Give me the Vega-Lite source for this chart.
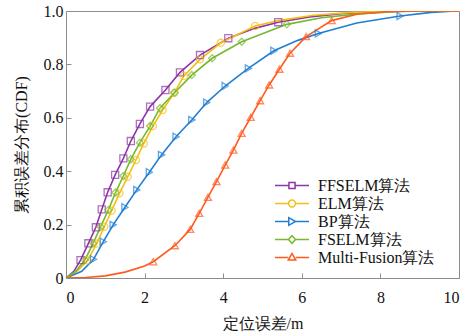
{
  "$schema": "https://vega.github.io/schema/vega-lite/v6.json",
  "width": 393,
  "height": 267,
  "autosize": {"type": "none"},
  "padding": {"left": 66, "top": 11, "right": 10, "bottom": 57},
  "background": "white",
  "config": {
    "font": "Liberation Serif",
    "view": {"stroke": "#8c8c8c", "strokeWidth": 1},
    "axis": {
      "domain": false,
      "grid": false,
      "labelFont": "Liberation Serif",
      "labelFontSize": 16,
      "labelColor": "#111",
      "titleFont": "Liberation Serif",
      "titleFontSize": 16,
      "titleFontWeight": "normal",
      "titleColor": "#111",
      "tickColor": "#8c8c8c",
      "tickSize": -5
    },
    "legend": {
      "labelFont": "Liberation Serif",
      "labelFontSize": 16,
      "labelColor": "#111"
    }
  },
  "datasets": {
    "lines": [
      {"algo": "FFSELM算法", "x": 0, "y": 0},
      {"algo": "FFSELM算法", "x": 0.2, "y": 0.025},
      {"algo": "FFSELM算法", "x": 0.37, "y": 0.067},
      {"algo": "FFSELM算法", "x": 0.57, "y": 0.13},
      {"algo": "FFSELM算法", "x": 0.76, "y": 0.19},
      {"algo": "FFSELM算法", "x": 0.91, "y": 0.257},
      {"algo": "FFSELM算法", "x": 1.06, "y": 0.321},
      {"algo": "FFSELM算法", "x": 1.25, "y": 0.386},
      {"algo": "FFSELM算法", "x": 1.46, "y": 0.448},
      {"algo": "FFSELM算法", "x": 1.65, "y": 0.513},
      {"algo": "FFSELM算法", "x": 1.88, "y": 0.577},
      {"algo": "FFSELM算法", "x": 2.14, "y": 0.642},
      {"algo": "FFSELM算法", "x": 2.53, "y": 0.704},
      {"algo": "FFSELM算法", "x": 2.9, "y": 0.77},
      {"algo": "FFSELM算法", "x": 3.41, "y": 0.835},
      {"algo": "FFSELM算法", "x": 4.13, "y": 0.898},
      {"algo": "FFSELM算法", "x": 4.8, "y": 0.935},
      {"algo": "FFSELM算法", "x": 5.4, "y": 0.958},
      {"algo": "FFSELM算法", "x": 6.2, "y": 0.978},
      {"algo": "FFSELM算法", "x": 7.0, "y": 0.99},
      {"algo": "FFSELM算法", "x": 8.0, "y": 0.997},
      {"algo": "FFSELM算法", "x": 9.0, "y": 1},
      {"algo": "FFSELM算法", "x": 10, "y": 1},

      {"algo": "ELM算法", "x": 0, "y": 0},
      {"algo": "ELM算法", "x": 0.3, "y": 0.028},
      {"algo": "ELM算法", "x": 0.55, "y": 0.066},
      {"algo": "ELM算法", "x": 0.78, "y": 0.129},
      {"algo": "ELM算法", "x": 0.975, "y": 0.192},
      {"algo": "ELM算法", "x": 1.16, "y": 0.252},
      {"algo": "ELM算法", "x": 1.36, "y": 0.317},
      {"algo": "ELM算法", "x": 1.57, "y": 0.379},
      {"algo": "ELM算法", "x": 1.78, "y": 0.442},
      {"algo": "ELM算法", "x": 1.98, "y": 0.504},
      {"algo": "ELM算法", "x": 2.21, "y": 0.569},
      {"algo": "ELM算法", "x": 2.46, "y": 0.629},
      {"algo": "ELM算法", "x": 2.76, "y": 0.694},
      {"algo": "ELM算法", "x": 3.0, "y": 0.757},
      {"algo": "ELM算法", "x": 3.41, "y": 0.819},
      {"algo": "ELM算法", "x": 3.94, "y": 0.881},
      {"algo": "ELM算法", "x": 4.81, "y": 0.944},
      {"algo": "ELM算法", "x": 5.4, "y": 0.964},
      {"algo": "ELM算法", "x": 6.3, "y": 0.984},
      {"algo": "ELM算法", "x": 7.3, "y": 0.995},
      {"algo": "ELM算法", "x": 8.5, "y": 1},
      {"algo": "ELM算法", "x": 10, "y": 1},

      {"algo": "BP算法", "x": 0, "y": 0},
      {"algo": "BP算法", "x": 0.4, "y": 0.025},
      {"algo": "BP算法", "x": 0.7, "y": 0.07},
      {"algo": "BP算法", "x": 0.95, "y": 0.136},
      {"algo": "BP算法", "x": 1.2, "y": 0.199},
      {"algo": "BP算法", "x": 1.5, "y": 0.265},
      {"algo": "BP算法", "x": 1.8, "y": 0.33},
      {"algo": "BP算法", "x": 2.12, "y": 0.396},
      {"algo": "BP算法", "x": 2.43, "y": 0.461},
      {"algo": "BP算法", "x": 2.8, "y": 0.529},
      {"algo": "BP算法", "x": 3.2, "y": 0.592},
      {"algo": "BP算法", "x": 3.58, "y": 0.657},
      {"algo": "BP算法", "x": 4.05, "y": 0.719},
      {"algo": "BP算法", "x": 4.64, "y": 0.785},
      {"algo": "BP算法", "x": 5.29, "y": 0.851},
      {"algo": "BP算法", "x": 5.9, "y": 0.89},
      {"algo": "BP算法", "x": 6.42, "y": 0.916},
      {"algo": "BP算法", "x": 7.4, "y": 0.955},
      {"algo": "BP算法", "x": 8.5, "y": 0.981},
      {"algo": "BP算法", "x": 9.3, "y": 0.995},
      {"algo": "BP算法", "x": 9.9, "y": 1},
      {"algo": "BP算法", "x": 10, "y": 1},

      {"algo": "FSELM算法", "x": 0, "y": 0},
      {"algo": "FSELM算法", "x": 0.25, "y": 0.025},
      {"algo": "FSELM算法", "x": 0.48, "y": 0.067},
      {"algo": "FSELM算法", "x": 0.69, "y": 0.13},
      {"algo": "FSELM算法", "x": 0.88, "y": 0.192},
      {"algo": "FSELM算法", "x": 1.08, "y": 0.255},
      {"algo": "FSELM算法", "x": 1.26, "y": 0.32},
      {"algo": "FSELM算法", "x": 1.46, "y": 0.382},
      {"algo": "FSELM算法", "x": 1.65, "y": 0.445},
      {"algo": "FSELM算法", "x": 1.88, "y": 0.507},
      {"algo": "FSELM算法", "x": 2.14, "y": 0.569},
      {"algo": "FSELM算法", "x": 2.39, "y": 0.636},
      {"algo": "FSELM算法", "x": 2.76, "y": 0.694},
      {"algo": "FSELM算法", "x": 3.2, "y": 0.76},
      {"algo": "FSELM算法", "x": 3.72, "y": 0.823},
      {"algo": "FSELM算法", "x": 4.47, "y": 0.885},
      {"algo": "FSELM算法", "x": 5.62, "y": 0.95},
      {"algo": "FSELM算法", "x": 6.5, "y": 0.975},
      {"algo": "FSELM算法", "x": 7.5, "y": 0.99},
      {"algo": "FSELM算法", "x": 8.5, "y": 0.998},
      {"algo": "FSELM算法", "x": 9.3, "y": 1},
      {"algo": "FSELM算法", "x": 10, "y": 1},

      {"algo": "Multi-Fusion算法", "x": 0, "y": 0},
      {"algo": "Multi-Fusion算法", "x": 0.5, "y": 0.002},
      {"algo": "Multi-Fusion算法", "x": 1.0, "y": 0.008},
      {"algo": "Multi-Fusion算法", "x": 1.5, "y": 0.022},
      {"algo": "Multi-Fusion算法", "x": 2.0, "y": 0.045},
      {"algo": "Multi-Fusion算法", "x": 2.22, "y": 0.061},
      {"algo": "Multi-Fusion算法", "x": 2.77, "y": 0.121},
      {"algo": "Multi-Fusion算法", "x": 3.16, "y": 0.182},
      {"algo": "Multi-Fusion算法", "x": 3.39, "y": 0.242},
      {"algo": "Multi-Fusion算法", "x": 3.61, "y": 0.302},
      {"algo": "Multi-Fusion算法", "x": 3.83, "y": 0.361},
      {"algo": "Multi-Fusion算法", "x": 4.05, "y": 0.423},
      {"algo": "Multi-Fusion算法", "x": 4.26, "y": 0.479},
      {"algo": "Multi-Fusion算法", "x": 4.47, "y": 0.542},
      {"algo": "Multi-Fusion算法", "x": 4.7, "y": 0.602},
      {"algo": "Multi-Fusion算法", "x": 4.94, "y": 0.664},
      {"algo": "Multi-Fusion算法", "x": 5.17, "y": 0.723},
      {"algo": "Multi-Fusion算法", "x": 5.43, "y": 0.782},
      {"algo": "Multi-Fusion算法", "x": 5.7, "y": 0.842},
      {"algo": "Multi-Fusion算法", "x": 6.11, "y": 0.904},
      {"algo": "Multi-Fusion算法", "x": 6.76, "y": 0.964},
      {"algo": "Multi-Fusion算法", "x": 7.4, "y": 0.988},
      {"algo": "Multi-Fusion算法", "x": 8.2, "y": 0.998},
      {"algo": "Multi-Fusion算法", "x": 9.0, "y": 1},
      {"algo": "Multi-Fusion算法", "x": 10, "y": 1}
    ],
    "markers": [
      {"algo": "FFSELM算法", "x": 0.37, "y": 0.067},
      {"algo": "FFSELM算法", "x": 0.57, "y": 0.13},
      {"algo": "FFSELM算法", "x": 0.76, "y": 0.19},
      {"algo": "FFSELM算法", "x": 0.91, "y": 0.257},
      {"algo": "FFSELM算法", "x": 1.06, "y": 0.321},
      {"algo": "FFSELM算法", "x": 1.25, "y": 0.386},
      {"algo": "FFSELM算法", "x": 1.46, "y": 0.448},
      {"algo": "FFSELM算法", "x": 1.65, "y": 0.513},
      {"algo": "FFSELM算法", "x": 1.88, "y": 0.577},
      {"algo": "FFSELM算法", "x": 2.14, "y": 0.642},
      {"algo": "FFSELM算法", "x": 2.53, "y": 0.704},
      {"algo": "FFSELM算法", "x": 2.9, "y": 0.77},
      {"algo": "FFSELM算法", "x": 3.41, "y": 0.835},
      {"algo": "FFSELM算法", "x": 4.13, "y": 0.898},
      {"algo": "FFSELM算法", "x": 5.4, "y": 0.958},

      {"algo": "ELM算法", "x": 0.55, "y": 0.066},
      {"algo": "ELM算法", "x": 0.78, "y": 0.129},
      {"algo": "ELM算法", "x": 0.975, "y": 0.192},
      {"algo": "ELM算法", "x": 1.16, "y": 0.252},
      {"algo": "ELM算法", "x": 1.36, "y": 0.317},
      {"algo": "ELM算法", "x": 1.57, "y": 0.379},
      {"algo": "ELM算法", "x": 1.78, "y": 0.442},
      {"algo": "ELM算法", "x": 1.98, "y": 0.504},
      {"algo": "ELM算法", "x": 2.21, "y": 0.569},
      {"algo": "ELM算法", "x": 2.46, "y": 0.629},
      {"algo": "ELM算法", "x": 2.76, "y": 0.694},
      {"algo": "ELM算法", "x": 3.0, "y": 0.757},
      {"algo": "ELM算法", "x": 3.41, "y": 0.819},
      {"algo": "ELM算法", "x": 3.94, "y": 0.881},
      {"algo": "ELM算法", "x": 4.81, "y": 0.944},

      {"algo": "BP算法", "x": 0.7, "y": 0.07},
      {"algo": "BP算法", "x": 0.95, "y": 0.136},
      {"algo": "BP算法", "x": 1.2, "y": 0.199},
      {"algo": "BP算法", "x": 1.5, "y": 0.265},
      {"algo": "BP算法", "x": 1.8, "y": 0.33},
      {"algo": "BP算法", "x": 2.12, "y": 0.396},
      {"algo": "BP算法", "x": 2.43, "y": 0.461},
      {"algo": "BP算法", "x": 2.8, "y": 0.529},
      {"algo": "BP算法", "x": 3.2, "y": 0.592},
      {"algo": "BP算法", "x": 3.58, "y": 0.657},
      {"algo": "BP算法", "x": 4.05, "y": 0.719},
      {"algo": "BP算法", "x": 4.64, "y": 0.785},
      {"algo": "BP算法", "x": 5.29, "y": 0.851},
      {"algo": "BP算法", "x": 6.42, "y": 0.916},
      {"algo": "BP算法", "x": 8.5, "y": 0.981},

      {"algo": "FSELM算法", "x": 0.48, "y": 0.067},
      {"algo": "FSELM算法", "x": 0.69, "y": 0.13},
      {"algo": "FSELM算法", "x": 0.88, "y": 0.192},
      {"algo": "FSELM算法", "x": 1.08, "y": 0.255},
      {"algo": "FSELM算法", "x": 1.26, "y": 0.32},
      {"algo": "FSELM算法", "x": 1.46, "y": 0.382},
      {"algo": "FSELM算法", "x": 1.65, "y": 0.445},
      {"algo": "FSELM算法", "x": 1.88, "y": 0.507},
      {"algo": "FSELM算法", "x": 2.14, "y": 0.569},
      {"algo": "FSELM算法", "x": 2.39, "y": 0.636},
      {"algo": "FSELM算法", "x": 2.76, "y": 0.694},
      {"algo": "FSELM算法", "x": 3.2, "y": 0.76},
      {"algo": "FSELM算法", "x": 3.72, "y": 0.823},
      {"algo": "FSELM算法", "x": 4.47, "y": 0.885},
      {"algo": "FSELM算法", "x": 5.62, "y": 0.95},

      {"algo": "Multi-Fusion算法", "x": 2.22, "y": 0.061},
      {"algo": "Multi-Fusion算法", "x": 2.77, "y": 0.121},
      {"algo": "Multi-Fusion算法", "x": 3.16, "y": 0.182},
      {"algo": "Multi-Fusion算法", "x": 3.39, "y": 0.242},
      {"algo": "Multi-Fusion算法", "x": 3.61, "y": 0.302},
      {"algo": "Multi-Fusion算法", "x": 3.83, "y": 0.361},
      {"algo": "Multi-Fusion算法", "x": 4.05, "y": 0.423},
      {"algo": "Multi-Fusion算法", "x": 4.26, "y": 0.479},
      {"algo": "Multi-Fusion算法", "x": 4.47, "y": 0.542},
      {"algo": "Multi-Fusion算法", "x": 4.7, "y": 0.602},
      {"algo": "Multi-Fusion算法", "x": 4.94, "y": 0.664},
      {"algo": "Multi-Fusion算法", "x": 5.17, "y": 0.723},
      {"algo": "Multi-Fusion算法", "x": 5.43, "y": 0.782},
      {"algo": "Multi-Fusion算法", "x": 5.7, "y": 0.842},
      {"algo": "Multi-Fusion算法", "x": 6.11, "y": 0.904},
      {"algo": "Multi-Fusion算法", "x": 6.76, "y": 0.964}
    ]
  },
  "encoding": {
    "x": {
      "field": "x", "type": "quantitative",
      "scale": {"domain": [0, 10], "nice": false},
      "axis": {"values": [0, 2, 4, 6, 8, 10], "title": "定位误差/m", "labelPadding": 16, "titleY": 37}
    },
    "y": {
      "field": "y", "type": "quantitative",
      "scale": {"domain": [0, 1], "nice": false},
      "axis": {"values": [0, 0.2, 0.4, 0.6, 0.8, 1.0], "labelExpr": "datum.value == 0 ? '0' : format(datum.value, '.1f')", "title": "累积误差分布(CDF)", "labelPadding": 8, "titleX": -37}
    }
  },
  "layer": [
    {
      "data": {"name": "lines"},
      "mark": {"type": "line", "strokeWidth": 1.6, "clip": true},
      "encoding": {
        "color": {
          "field": "algo", "type": "nominal", "legend": null,
          "scale": {
            "domain": ["FFSELM算法", "ELM算法", "BP算法", "FSELM算法", "Multi-Fusion算法"],
            "range": ["#8E35A8", "#F5BE12", "#1F7FD4", "#77B82F", "#FF5A1E"]
          }
        },
        "order": {"field": "x", "type": "quantitative"}
      }
    },
    {
      "data": {"name": "markers"},
      "mark": {"type": "point", "filled": false, "size": 50, "strokeWidth": 1.3},
      "encoding": {
        "color": {
          "field": "algo", "type": "nominal", "legend": null,
          "scale": {
            "domain": ["FFSELM算法", "ELM算法", "BP算法", "FSELM算法", "Multi-Fusion算法"],
            "range": ["#8E35A8", "#F5BE12", "#1F7FD4", "#77B82F", "#FF5A1E"]
          }
        },
        "shape": {
          "field": "algo", "type": "nominal", "legend": null,
          "scale": {
            "domain": ["FFSELM算法", "ELM算法", "BP算法", "FSELM算法", "Multi-Fusion算法"],
            "range": ["square", "circle", "triangle-right", "diamond", "triangle-up"]
          }
        }
      }
    },
    {
      "data": {"name": "markers"},
      "mark": {"type": "point", "filled": false, "opacity": 0},
      "encoding": {
        "shape": {
          "field": "algo", "type": "nominal",
          "scale": {
            "domain": ["FFSELM算法", "ELM算法", "BP算法", "FSELM算法", "Multi-Fusion算法"],
            "range": [
              "M-1,0H0.64M1.36,0H3M0.64,-0.36H1.36V0.36H0.64Z",
              "M-1,0H0.6M1.4,0H3M0.6,0A0.4,0.4 0 1,0 1.4,0A0.4,0.4 0 1,0 0.6,0Z",
              "M-1,0H0.62M1.42,0H3M0.62,-0.45L1.42,0L0.62,0.45Z",
              "M-1,0H0.58M1.42,0H3M1,-0.45L1.42,0L1,0.45L0.58,0Z",
              "M-1,0H0.56M1.44,0H3M1,-0.48L1.44,0.3L0.56,0.3Z"
            ]
          },
          "legend": {
            "title": null,
            "orient": "none",
            "legendX": 208,
            "legendY": 165,
            "padding": 0,
            "symbolSize": 289,
            "symbolStrokeWidth": 1.5,
            "symbolFillColor": "transparent",
            "labelOffset": 25,
            "rowPadding": -0.5
          }
        },
        "color": {
          "field": "algo", "type": "nominal",
          "scale": {
            "domain": ["FFSELM算法", "ELM算法", "BP算法", "FSELM算法", "Multi-Fusion算法"],
            "range": ["#8E35A8", "#F5BE12", "#1F7FD4", "#77B82F", "#FF5A1E"]
          },
          "legend": {
            "title": null,
            "orient": "none",
            "legendX": 208,
            "legendY": 165,
            "padding": 0,
            "symbolSize": 289,
            "symbolStrokeWidth": 1.5,
            "symbolFillColor": "transparent",
            "labelOffset": 25,
            "rowPadding": -0.5
          }
        }
      }
    }
  ],
  "resolve": {"scale": {"shape": "independent", "color": "independent"}}
}
